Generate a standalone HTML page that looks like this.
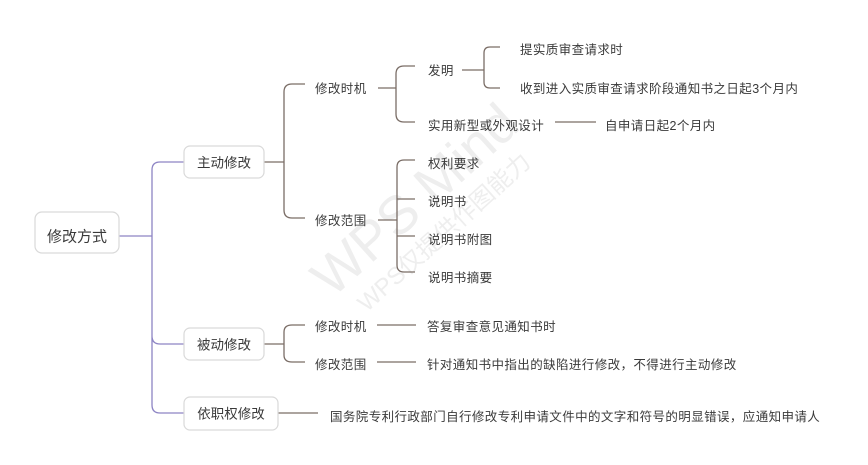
<!DOCTYPE html>
<html><head><meta charset="utf-8"><style>
html,body{margin:0;padding:0;background:#fff;}
svg{display:block;}
text{font-family:"Liberation Sans","Noto Sans CJK SC",sans-serif;fill:#3a3a3a;dominant-baseline:central;}
</style></head><body>
<svg width="868" height="465" viewBox="0 0 868 465" xmlns="http://www.w3.org/2000/svg">
<g transform="translate(415,200) rotate(-42)">
<text x="0" y="0" font-size="54" text-anchor="middle" style="fill:#eeeeee">WPS Mind</text>
<text x="0" y="44" font-size="24" text-anchor="middle" style="fill:#eeeeee">WPS仅提供作图能力</text>
</g>
<g fill="none" stroke-width="1.3">
<path d="M119 236 H152 M160 162 Q152 162 152 170 V405 Q152 413 160 413 H184 M152 336 Q152 344 160 344 H184 M160 162 H184" stroke="#8d84c4"/>
<g stroke="#7a6d66">
<path d="M264 162 H284 M305 84 H292 Q284 84 284 92 V210 Q284 218 292 218 H305"/>
<path d="M378 88 H396 M415 66 H404 Q396 66 396 74 V114 Q396 122 404 122 H415"/>
<path d="M462 70 H484 M500 47 H490 Q484 47 484 53 V82 Q484 88 490 88 H500"/>
<path d="M555 122 H596"/>
<path d="M378 220 H397 M415 160 H404 Q397 160 397 167 V265 Q397 272 404 272 H415 M397 199 H415 M397 236 H415"/>
<path d="M264 344 H284 M305 325 H292 Q284 325 284 332 V355 Q284 362 292 362 H305"/>
<path d="M377 325 H416 M377 362 H416"/>
<path d="M278 413 H318"/>
</g>
</g>
<g fill="#fff" stroke="#d9d9d9" stroke-width="1.2">
<rect x="35" y="212" width="84" height="41" rx="7"/>
<rect x="184" y="146" width="80" height="32" rx="6"/>
<rect x="184" y="328" width="80" height="32" rx="6"/>
<rect x="184" y="397" width="94" height="33" rx="6"/>
</g>
<text x="77" y="237" font-size="15" text-anchor="middle">修改方式</text>
<text x="224" y="163" font-size="13.5" text-anchor="middle">主动修改</text>
<text x="224" y="345" font-size="13.5" text-anchor="middle">被动修改</text>
<text x="231" y="414" font-size="13.5" text-anchor="middle">依职权修改</text>
<g font-size="12.5" letter-spacing="0.4">
<text x="315" y="89">修改时机</text>
<text x="315" y="221">修改范围</text>
<text x="428" y="71">发明</text>
<text x="428" y="126">实用新型或外观设计</text>
<text x="520" y="50">提实质审查请求时</text>
<text x="520" y="89">收到进入实质审查请求阶段通知书之日起3个月内</text>
<text x="605" y="126">自申请日起2个月内</text>
<text x="428" y="164">权利要求</text>
<text x="428" y="202">说明书</text>
<text x="428" y="240">说明书附图</text>
<text x="428" y="278">说明书摘要</text>
<text x="315" y="327">修改时机</text>
<text x="315" y="365">修改范围</text>
<text x="427" y="327">答复审查意见通知书时</text>
<text x="427" y="365">针对通知书中指出的缺陷进行修改，不得进行主动修改</text>
<text x="330" y="417">国务院专利行政部门自行修改专利申请文件中的文字和符号的明显错误，应通知申请人</text>
</g>
</svg>
</body></html>
